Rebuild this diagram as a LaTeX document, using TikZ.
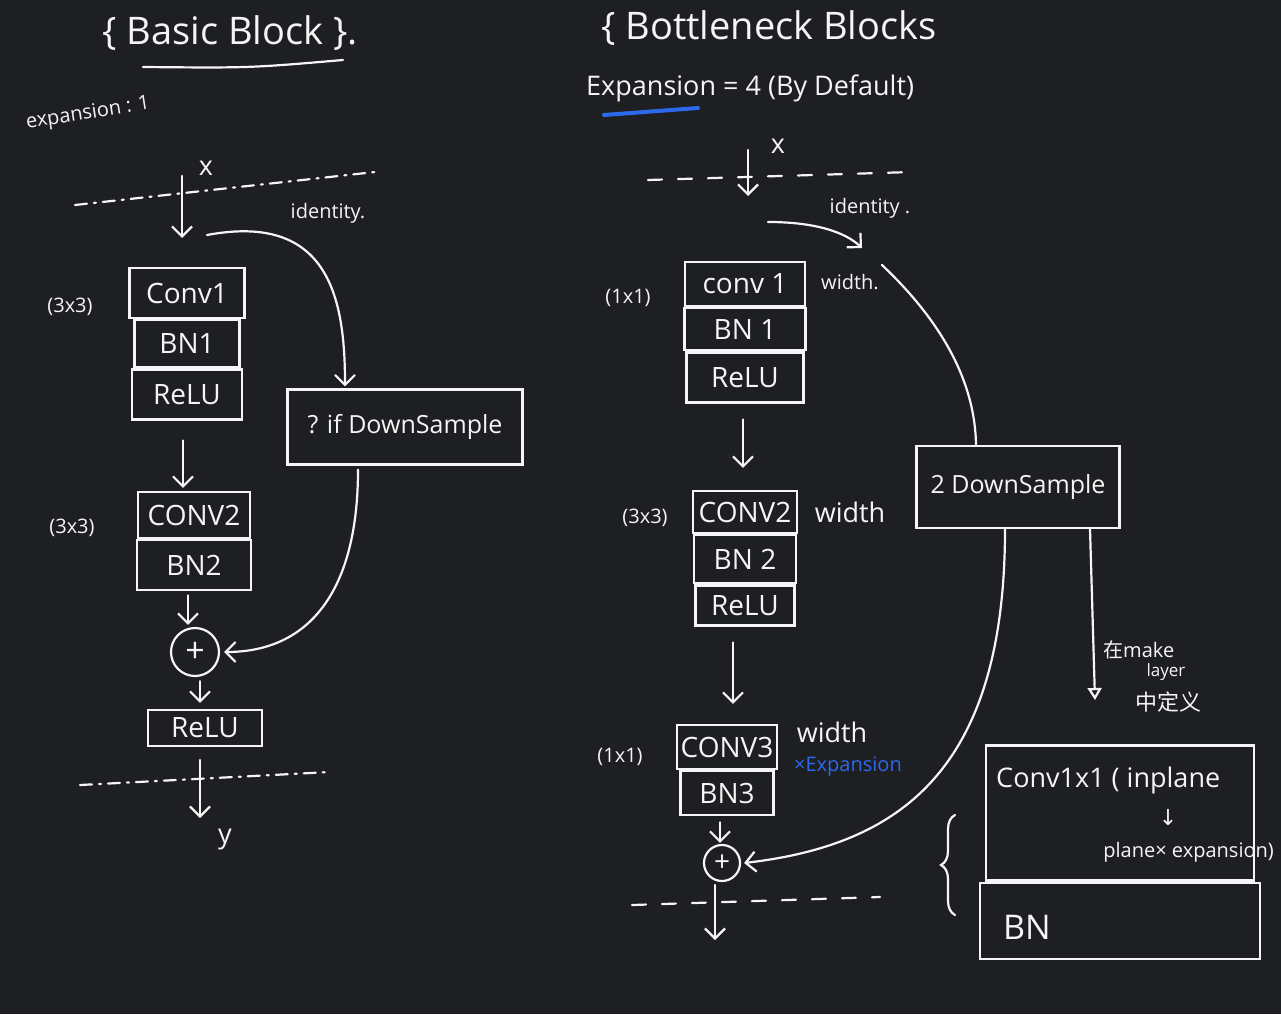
\documentclass[tikz,border=0pt]{standalone}
\usepackage{fontspec}
\setmainfont{Open Sans}
\newfontfamily\cjkfont{Noto Sans CJK SC}
\newfontfamily\symfont{DejaVu Sans}
\usetikzlibrary{arrows.meta,decorations.pathreplacing}
\definecolor{bg}{RGB}{30,31,34}
\definecolor{pen}{RGB}{245,245,245}
\definecolor{hblue}{RGB}{45,105,235}
\tikzset{
  ink/.style={draw=pen,line width=2.2pt,line cap=round},
  box/.style={ink,text=pen,inner sep=0pt,font=\fontsize{28}{34}\selectfont},
  sumnode/.style={ink,circle,text=pen,inner sep=0pt,font=\fontsize{34}{36}\selectfont},
  lbl/.style={text=pen,inner sep=1pt,font=\fontsize{20}{24}\selectfont},
  biglbl/.style={text=pen,inner sep=1pt,font=\fontsize{27}{32}\selectfont},
  titlelbl/.style={text=pen,inner sep=1pt,font=\fontsize{38}{44}\selectfont},
  arr/.style={ink,-{Straight Barb[length=10pt,width=20pt]}},
  dashdotline/.style={ink,dash pattern=on 12pt off 7pt on 2pt off 7pt},
  dashline/.style={ink,dash pattern=on 14pt off 16pt},
}
\begin{document}
\begin{tikzpicture}[x=1pt,y=-1pt]
\fill[bg] (0,0) rectangle (1281,1014);
\useasboundingbox (0,0) rectangle (1281,1014);

% ================= LEFT: Basic Block =================
\node[titlelbl] (titleL) at (230,33) {\{ Basic Block \}.};
\coordinate (ulL1) at (143,67);
\coordinate (ulL2) at (343,60);
\draw[ink] (ulL1) .. controls (250,68) .. (ulL2);
\node[lbl,rotate=9] (expL) at (88,114) {expansion : 1};

\coordinate (dlL1) at (75,205);
\coordinate (dlL2) at (375,172);
\draw[dashdotline] (dlL1) -- (dlL2);
\coordinate (xL) at (182,176);
\coordinate (xLend) at (182,238);
\draw[arr] (xL) -- (xLend);
\node[biglbl] (xlabL) at (206,168) {x};
\node[lbl] (idlabL) at (328,213) {identity.};

\node[box,minimum width=115pt,minimum height=50pt] (conv1L) at (187,293) {Conv1};
\node[box,minimum width=105pt,minimum height=47pt,anchor=north] (bn1L) at (conv1L.south) {BN1};
\node[box,minimum width=110pt,minimum height=50pt,anchor=north] (relu1L) at (bn1L.south) {ReLU};
\node[lbl] (k1L) at (70,307) {(3x3)};

\node[box,minimum width=112pt,minimum height=46pt] (conv2L) at (194,515) {CONV2};
\node[box,minimum width=114pt,minimum height=50pt,anchor=north] (bn2L) at (conv2L.south) {BN2};
\node[lbl] (k2L) at (72,528) {(3x3)};

\node[sumnode,minimum size=48pt] (plusL) at (195,652) {+};
\node[box,minimum width=114pt,minimum height=36pt] (relu2L) at (205,728) {ReLU};

\node[box,minimum width=235pt,minimum height=75pt,font=\fontsize{25}{30}\selectfont] (dsL) at (405,427) {? if DownSample};

\draw[arr] ([yshift=-20pt]relu1L.south -| 183,0) -- ([yshift=3pt]conv2L.north -| 183,0);
\draw[arr] ([yshift=-4pt]bn2L.south -| 188,0) -- ([yshift=2pt]plusL.north -| 188,0);
\draw[arr] ([yshift=-4pt]plusL.south -| 200,0) -- ([yshift=6pt]relu2L.north -| 200,0);

\coordinate (idL) at (207,235);
\draw[arr] (idL) .. controls (330,212) and (345,300) .. ([xshift=-60pt,yshift=2pt]dsL.north);
\draw[arr] ([xshift=-47pt,yshift=-4pt]dsL.south) .. controls (358,590) and (310,652) .. ([xshift=4pt]plusL.east);

\coordinate (dlL3) at (80,785);
\coordinate (dlL4) at (330,772);
\draw[dashdotline] (dlL3) -- (dlL4);
\coordinate (yL) at (200,760);
\coordinate (yLend) at (200,818);
\draw[arr] (yL) -- (yLend);
\node[biglbl] (ylabL) at (225,840) {y};

% ================= RIGHT: Bottleneck Block =================
\node[titlelbl,anchor=west] (titleR) at (600,28) {\{ Bottleneck Blocks};
\node[biglbl,anchor=west] (expR) at (585,88) {Expansion = 4 (By Default)};
\coordinate (bu1) at (604,115);
\coordinate (bu2) at (698,108);
\draw[draw=hblue,line width=4pt,line cap=round] (bu1) -- (bu2);

\coordinate (dlR1) at (648,180);
\coordinate (dlR2) at (912,172);
\draw[dashline] (dlR1) -- (dlR2);
\coordinate (xR) at (748,150);
\coordinate (xRend) at (748,196);
\draw[arr] (xR) -- (xRend);
\node[biglbl] (xlabR) at (778,146) {x};
\node[lbl] (idlabR) at (870,208) {identity .};

\node[box,minimum width=120pt,minimum height=44pt] (conv1R) at (745,284) {conv 1};
\node[box,minimum width=121pt,minimum height=42pt,anchor=north] (bn1R) at (conv1R.south) {BN 1};
\node[box,minimum width=117pt,minimum height=50pt,anchor=north] (relu1R) at (bn1R.south) {ReLU};
\node[lbl] (k1R) at (628,298) {(1x1)};
\node[lbl] (w1R) at (850,282) {width.};

\node[box,minimum width=104pt,minimum height=42pt] (conv2R) at (745,512) {CONV2};
\node[box,minimum width=102pt,minimum height=48pt,anchor=north] (bn2R) at (conv2R.south) {BN 2};
\node[box,minimum width=99pt,minimum height=40pt,anchor=north] (relu2R) at (bn2R.south) {ReLU};
\node[lbl] (k2R) at (645,518) {(3x3)};
\node[biglbl] (w2R) at (850,512) {width};

\node[box,minimum width=100pt,minimum height=44pt] (conv3R) at (727,747) {CONV3};
\node[box,minimum width=93pt,minimum height=44pt,anchor=north] (bn3R) at (conv3R.south) {BN3};
\node[lbl] (k3R) at (620,757) {(1x1)};
\node[biglbl] (w3R) at (832,732) {width};
\node[lbl,text=hblue] (expR3) at (848,767) {×Expansion};

\node[sumnode,minimum size=36pt,font=\fontsize{28}{30}\selectfont] (plusR) at (722,863) {+};

\node[box,minimum width=203pt,minimum height=82pt,font=\fontsize{25}{30}\selectfont] (dsR) at (1018,487) {2 DownSample};

\draw[arr] ([yshift=-16pt]relu1R.south -| 743,0) -- ([yshift=22pt]conv2R.north -| 743,0);
\draw[arr] ([yshift=-16pt]relu2R.south -| 733,0) -- ([yshift=20pt]conv3R.north -| 733,0);
\draw[arr] ([yshift=-6pt]bn3R.south -| 720,0) -- ([yshift=1pt]plusR.north -| 720,0);

\coordinate (idR) at (768,222);
\coordinate (idRend) at (862,248);
\draw[arr] (idR) .. controls (815,222) and (845,232) .. (idRend);
\coordinate (wR) at (882,265);
\draw[ink] (wR) .. controls (940,320) and (975,380) .. ([xshift=-42pt]dsR.north);
\draw[arr] ([xshift=-13pt]dsR.south) .. controls (1005,770) and (900,845) .. ([xshift=3pt]plusR.east);

\coordinate (dlR3) at (632,905);
\coordinate (dlR4) at (880,897);
\draw[dashline] (dlR3) -- (dlR4);
\coordinate (yR) at (715,885);
\coordinate (yRend) at (715,940);
\draw[arr] (yR) -- (yRend);

% make-layer note
\coordinate (mkend) at (1095,700);
\draw[ink,-{Triangle[open,length=12pt,width=14pt]}] ([xshift=72pt]dsR.south) -- (mkend);
\node[lbl,anchor=west] (mk1) at (1102,650) {{\cjkfont 在}make};
\node[lbl,font=\fontsize{17}{20}\selectfont] (mk2) at (1166,672) {layer};
\node[lbl,font=\cjkfont\fontsize{22}{26}\selectfont] (mk3) at (1168,702) {中定义};

% downsample detail
\node[ink,minimum width=268pt,minimum height=135pt] (dsconv) at (1120,813) {};
\node[ink,minimum width=280pt,minimum height=76pt,anchor=north] (dsbn) at (dsconv.south) {};
\node[biglbl,anchor=west] (dsc1) at (995,780) {Conv1x1 ( inplane};
\node[lbl,font=\symfont\fontsize{22}{26}\selectfont] (dsc2) at (1168,818) {↓};
\node[lbl,anchor=east] (dsc3) at (1275,852) {plane× expansion)};
\node[box,draw=none,anchor=west,font=\fontsize{34}{40}\selectfont] (dsbnt) at (1002,927) {BN};
\coordinate (brTop) at (955,815);
\coordinate (brBot) at (955,915);
\draw[ink,decorate,decoration={brace,amplitude=14pt}] (brBot) -- (brTop);
\end{tikzpicture}
\end{document}
